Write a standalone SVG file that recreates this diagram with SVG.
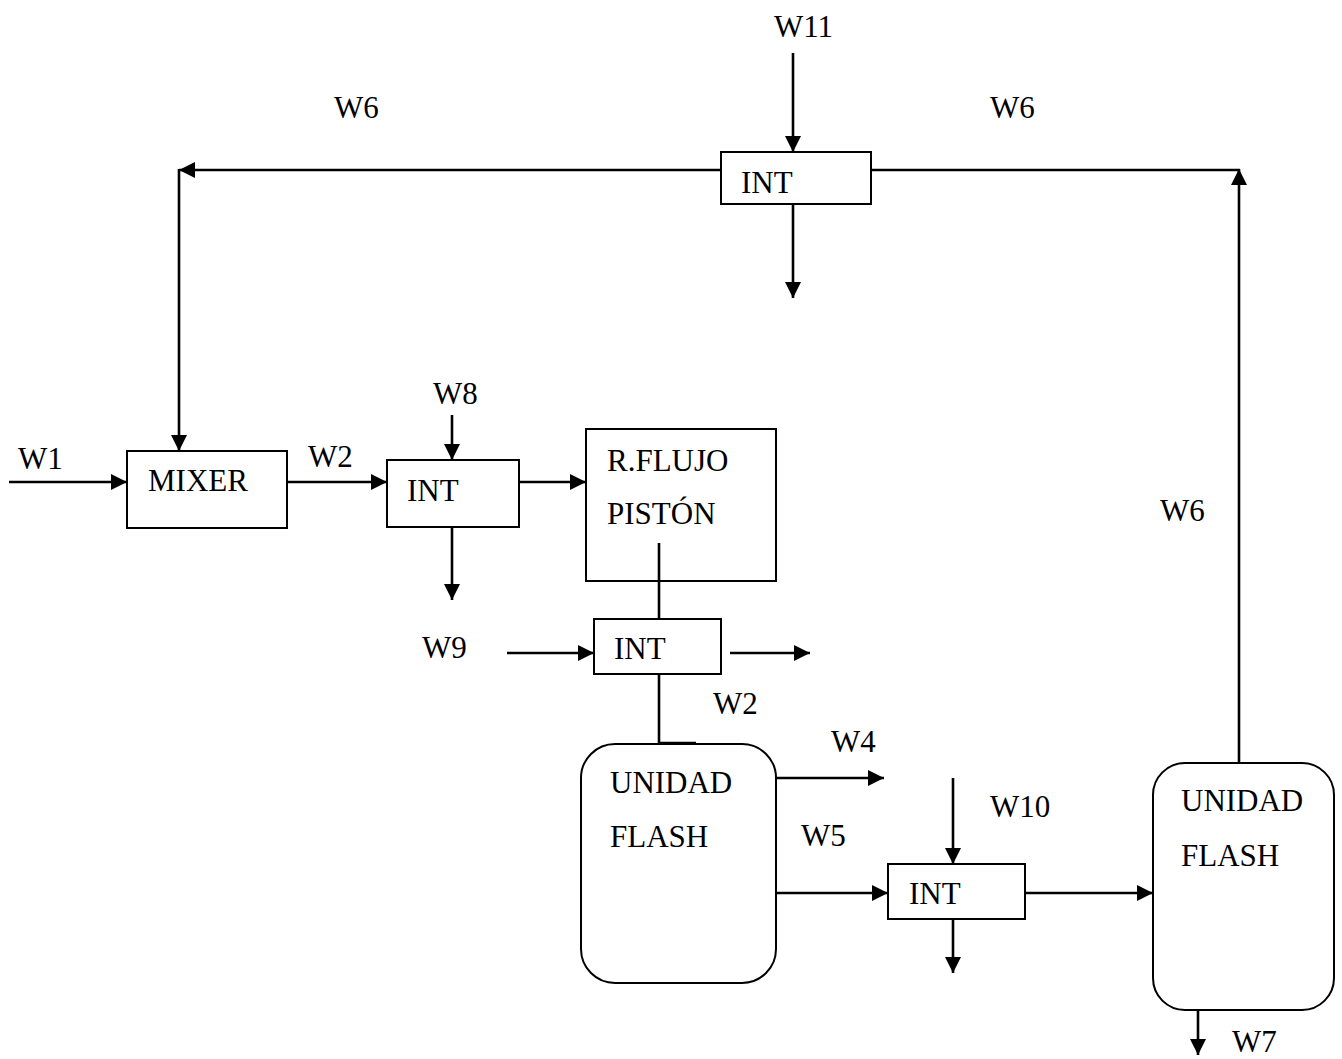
<svg xmlns="http://www.w3.org/2000/svg" width="1342" height="1059" viewBox="0 0 1342 1059">
<style>
  .box{fill:#fff;stroke:#000;stroke-width:2}
  .ln{fill:none;stroke:#000;stroke-width:2.6}
  .arr{marker-end:url(#ah)}
  text{font-family:"Liberation Serif","Times New Roman",serif;font-size:31px;fill:#000}
</style>
<defs>
  <marker id="ah" viewBox="0 0 16 16" refX="16" refY="8" markerWidth="16" markerHeight="16" markerUnits="userSpaceOnUse" orient="auto">
    <path d="M0,0 L16,8 L0,16 z" fill="#000"/>
  </marker>
</defs>
<rect width="1342" height="1059" fill="#fff"/>
<g id="connectors">
  <line class="ln arr" x1="793" y1="53" x2="793" y2="152"/>
  <line class="ln arr" x1="793" y1="204" x2="793" y2="298"/>
  <line class="ln arr" x1="720" y1="170" x2="179" y2="170"/>
  <line class="ln arr" x1="179" y1="169" x2="179" y2="451"/>
  <line class="ln" x1="871" y1="170" x2="1240" y2="170"/>
  <line class="ln arr" x1="1239" y1="763" x2="1239" y2="169"/>
  <line class="ln arr" x1="9" y1="482" x2="127" y2="482"/>
  <line class="ln arr" x1="287" y1="482" x2="387" y2="482"/>
  <line class="ln arr" x1="452" y1="415" x2="452" y2="460"/>
  <line class="ln arr" x1="452" y1="527" x2="452" y2="600"/>
  <line class="ln arr" x1="519" y1="482" x2="586" y2="482"/>
  <line class="ln" x1="659" y1="543" x2="659" y2="619"/>
  <line class="ln arr" x1="507" y1="653" x2="594" y2="653"/>
  <line class="ln arr" x1="730" y1="653" x2="810" y2="653"/>
  <line class="ln" x1="659" y1="674" x2="659" y2="744"/>
  <line class="ln arr" x1="776" y1="778" x2="884" y2="778"/>
  <line class="ln arr" x1="776" y1="893" x2="888" y2="893"/>
  <line class="ln arr" x1="953" y1="778" x2="953" y2="864"/>
  <line class="ln arr" x1="953" y1="919" x2="953" y2="973"/>
  <line class="ln arr" x1="1025" y1="893" x2="1153" y2="893"/>
  <line class="ln arr" x1="1198" y1="1010" x2="1198" y2="1055"/>
</g>
<g id="labels">
  <text x="774" y="37">W11</text>
  <text x="334" y="118">W6</text>
  <text x="990" y="118">W6</text>
  <text x="1160" y="521">W6</text>
  <text x="18" y="469">W1</text>
  <text x="308" y="467">W2</text>
  <text x="433" y="404">W8</text>
  <text x="422" y="658">W9</text>
  <text x="713" y="714">W2</text>
  <text x="831" y="752">W4</text>
  <text x="801" y="846">W5</text>
  <text x="990" y="817">W10</text>
  <text x="1232" y="1052">W7</text>
</g>
<g id="int-top">
  <rect class="box" x="721" y="152" width="150" height="52"/>
  <text x="741" y="193">INT</text>
</g>
<g id="mixer">
  <rect class="box" x="127" y="451" width="160" height="77"/>
  <text x="148" y="491">MIXER</text>
</g>
<g id="int-1">
  <rect class="box" x="387" y="460" width="132" height="67"/>
  <text x="407" y="501">INT</text>
</g>
<g id="reactor">
  <rect class="box" x="586" y="429" width="190" height="152"/>
  <text x="607" y="471">R.FLUJO</text>
  <text x="607" y="524">PISTÓN</text>
  <line class="ln" x1="659" y1="543" x2="659" y2="581"/>
</g>
<g id="int-2">
  <rect class="box" x="594" y="619" width="127" height="55"/>
  <text x="614" y="659">INT</text>
</g>
<g id="flash-1">
  <rect class="box" x="581" y="744" width="195" height="239" rx="34" ry="34"/>
  <line class="ln" x1="658" y1="743" x2="696" y2="743"/>
  <text x="610" y="793">UNIDAD</text>
  <text x="610" y="847">FLASH</text>
</g>
<g id="int-3">
  <rect class="box" x="888" y="864" width="137" height="55"/>
  <text x="909" y="904">INT</text>
</g>
<g id="flash-2">
  <rect class="box" x="1153" y="763" width="181" height="247" rx="32" ry="32"/>
  <text x="1181" y="811">UNIDAD</text>
  <text x="1181" y="866">FLASH</text>
</g>
</svg>
